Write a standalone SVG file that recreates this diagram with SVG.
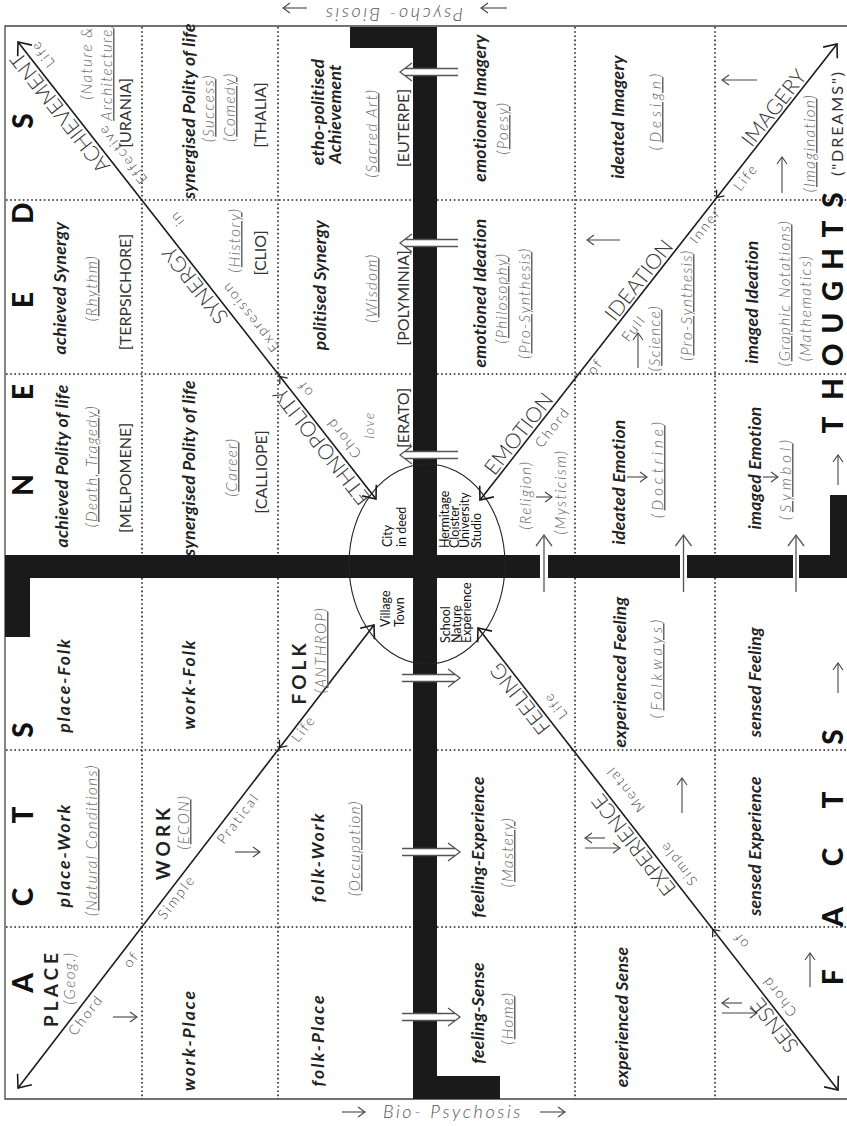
<svg xmlns="http://www.w3.org/2000/svg" width="847" height="1126" viewBox="0 0 847 1126">
<defs>
<style>
text{font-family:Lato,"Open Sans","DejaVu Sans",sans-serif;text-anchor:middle;fill:#222}
.lab{font-style:italic;font-weight:700;font-size:17.5px;letter-spacing:0.3px}
.sp{letter-spacing:2px}
.par{font-style:italic;font-weight:300;font-size:15px;fill:#666;letter-spacing:1.5px}
.u{text-decoration:underline}
.mus{font-size:16px;fill:#333}
.big{font-weight:900;font-size:28px;fill:#111}
.cap{font-weight:700;font-size:19px;letter-spacing:4px}
.dg{font-weight:300;font-size:21px;fill:#333}
.ds{font-weight:300;font-size:14px;fill:#444;letter-spacing:2px}
.cir{font-size:12.5px;text-anchor:start;fill:#111}
.bp{font-style:italic;font-weight:300;font-size:18px;fill:#555;letter-spacing:2.6px}
.dot{stroke:#222;stroke-width:1.6;stroke-dasharray:1.6 2.6;fill:none}
.bar{fill:#1a1a1a}
.gap{fill:#fff}
.ln{stroke:#1a1a1a;stroke-width:1.6;fill:none}
.ar{stroke:#444;stroke-width:1.1;fill:none}
.ha{stroke:#555;stroke-width:1.3;fill:none}
.tk{stroke:none;fill:none}
</style>
<marker id="ah" viewBox="-13 -11 15 22" refX="0" refY="0" markerWidth="15" markerHeight="22" markerUnits="userSpaceOnUse" orient="auto-start-reverse"><path d="M-11,-9 L0,0 L-11,9" fill="none" stroke="#1a1a1a" stroke-width="1.6"/></marker>
<marker id="sa" viewBox="-9 -7 11 14" refX="0" refY="0" markerWidth="11" markerHeight="14" markerUnits="userSpaceOnUse" orient="auto"><path d="M-7,-5 L0,0 L-7,5" fill="none" stroke="#444" stroke-width="1.1"/></marker>
<marker id="ck" viewBox="-9 -7 11 14" refX="0" refY="0" markerWidth="11" markerHeight="14" markerUnits="userSpaceOnUse" orient="auto"><path d="M-6,-5 L0,0 L-6,5" fill="none" stroke="#1a1a1a" stroke-width="1.2"/></marker>
<marker id="ha" viewBox="-13 -10 15 20" refX="0" refY="0" markerWidth="15" markerHeight="20" markerUnits="userSpaceOnUse" orient="auto"><path d="M-11,-8 L0,0 L-11,8" fill="none" stroke="#555" stroke-width="1.3"/></marker>
</defs>
<rect width="847" height="1126" fill="#fff"/>

<g id="frame">
<path d="M847,26 H5 V1099 H847" fill="none" stroke="#444" stroke-width="1.3"/>
</g>

<g id="grid">
<path class="dot" d="M142,27 V555 M278,27 V555 M575,27 V555 M715,27 V555 M142,578 V1099 M278,578 V1099 M575,578 V1099 M715,578 V1099"/>
<path class="dot" d="M6,200 H413 M6,374 H413 M437,200 H847 M437,374 H847 M6,750 H413 M6,927 H413 M437,750 H847 M437,927 H847"/>
</g>

<g id="bars">
<rect class="bar" x="413" y="27" width="24" height="1072"/>
<rect class="bar" x="350" y="27" width="87" height="21"/>
<rect class="bar" x="413" y="1076" width="87" height="23"/>
<rect class="bar" x="5" y="555" width="842" height="23"/>
<rect class="bar" x="5" y="555" width="25" height="82"/>
<rect class="bar" x="830" y="495" width="17" height="83"/>
<rect class="gap" x="413" y="68.5" width="24" height="7"/>
<rect class="gap" x="413" y="239.5" width="24" height="7"/>
<rect class="gap" x="413" y="451.5" width="24" height="7"/>
<rect class="gap" x="413" y="674.5" width="24" height="7"/>
<rect class="gap" x="413" y="848.5" width="24" height="7"/>
<rect class="gap" x="413" y="1013.5" width="24" height="7"/>
<rect class="gap" x="540" y="555" width="8" height="23"/>
<rect class="gap" x="680" y="555" width="7" height="23"/>
<rect class="gap" x="793" y="555" width="6" height="23"/>
</g>

<g id="center">
<ellipse cx="427" cy="564" rx="78" ry="100" fill="none" stroke="#222" stroke-width="1.1"/>
<text class="cir" transform="translate(392,547) rotate(-90)">City</text>
<text class="cir" transform="translate(406,547) rotate(-90)">in deed</text>
<text class="cir" transform="translate(449,548) rotate(-90)">Hermitage</text>
<text class="cir" transform="translate(459,548) rotate(-90)">Cloister</text>
<text class="cir" transform="translate(469,548) rotate(-90)">University</text>
<text class="cir" transform="translate(481,548) rotate(-90)">Studio</text>
<text class="cir" transform="translate(390,627) rotate(-90)">Village</text>
<text class="cir" transform="translate(404,627) rotate(-90)">Town</text>
<text class="cir" transform="translate(450,643) rotate(-90)">School</text>
<text class="cir" transform="translate(461,643) rotate(-90)">Nature</text>
<text class="cir" transform="translate(471,643) rotate(-90)">Expérience</text>
</g>

<g id="connectors">
<path class="ln" d="M376,499 L18,42" marker-start="url(#ah)" marker-end="url(#ah)"/>
<path class="ln" d="M374,625 L18,1088" marker-start="url(#ah)" marker-end="url(#ah)"/>
<path class="ln" d="M480,500 L837,44" marker-start="url(#ah)" marker-end="url(#ah)"/>
<path class="ln" d="M478,628 L838,1090" marker-start="url(#ah)" marker-end="url(#ah)"/>
<path class="tk" marker-end="url(#ck)" d="M135,191.3 L140,197.6 M148.6,208.7 L143.7,202.4 M271.3,365.3 L276.3,371.6 M284.9,382.7 L280,376.4"/>
<path class="tk" marker-end="url(#ck)" d="M135.1,935.2 L140,928.9 M148.5,918.8 L143.6,925.1 M271.2,758.7 L276.1,752.4 M284.6,741.3 L279.7,747.6"/>
<path class="tk" marker-end="url(#ck)" d="M571.8,382.7 L576.7,376.4 M585.4,365.3 L580.5,371.6 M708.1,208.7 L713,202.4 M721.7,191.3 L716.8,197.6"/>
<path class="tk" marker-end="url(#ck)" d="M566.3,741.3 L571.3,747.6 M579.9,758.7 L574.9,752.4 M704.2,918.3 L709.2,924.6 M717.8,935.7 L712.8,929.4"/>
<path class="ha" d="M458,68.5 H405 M458,75.5 H405 M412,63 L400,72 L412,81"/>
<path class="ha" d="M458,239.5 H405 M458,246.5 H405 M412,234 L400,243 L412,252"/>
<path class="ha" d="M458,451.5 H405 M458,458.5 H405 M412,446 L400,455 L412,464"/>
<path class="ha" d="M402,674.5 H455 M402,681.5 H455 M448,669 L460,678 L448,687"/>
<path class="ha" d="M402,848.5 H455 M402,855.5 H455 M448,843 L460,852 L448,861"/>
<path class="ha" d="M402,1013.5 H455 M402,1020.5 H455 M448,1008 L460,1017 L448,1026"/>
<path class="ha" d="M544,592 V535" marker-end="url(#ha)"/>
<path class="ha" d="M683.5,592 V535" marker-end="url(#ha)"/>
<path class="ha" d="M796,592 V535" marker-end="url(#ha)"/>
<path class="ar" d="M113,1017 H137" marker-end="url(#sa)"/>
<path class="ar" d="M235,852 H260" marker-end="url(#sa)"/>
<path class="ar" d="M536,497 H552" marker-end="url(#sa)"/>
<path class="ar" d="M627,477 H647" marker-end="url(#sa)"/>
<path class="ar" d="M763,477 H778" marker-end="url(#sa)"/>
<path class="ar" d="M620,240 H587" marker-end="url(#sa)"/>
<path class="ar" d="M638,368 V333" marker-end="url(#sa)"/>
<path class="ar" d="M757,80 H722" marker-end="url(#sa)"/>
<path class="ar" d="M782,193 V157" marker-end="url(#sa)"/>
<path class="ar" d="M605,838 H585" marker-end="url(#sa)"/>
<path class="ar" d="M585,848 H620" marker-end="url(#sa)"/>
<path class="ar" d="M682,813 V778" marker-end="url(#sa)"/>
<path class="ar" d="M742,1003 H722" marker-end="url(#sa)"/>
<path class="ar" d="M722,1013 H757" marker-end="url(#sa)"/>
<path class="ar" d="M810,987 V953" marker-end="url(#sa)"/>
<path class="ar" d="M838,693 V663" marker-end="url(#sa)"/>
<path class="ar" d="M838,485 V455" marker-end="url(#sa)"/>
<path class="ar" d="M307,8 H283" marker-end="url(#sa)"/>
<path class="ar" d="M507,8 H481" marker-end="url(#sa)"/>
<path class="ar" d="M342,1112 H365" marker-end="url(#sa)"/>
<path class="ar" d="M540,1112 H565" marker-end="url(#sa)"/>
</g>

<g id="axis-labels">
<text class="bp" transform="translate(393,15) rotate(180)" dominant-baseline="central">Psycho- Biosis</text>
<text class="bp" x="453" y="1118">Bio- Psychosis</text>
<text class="big" transform="rotate(-90)" x="-485 -392 -300 -213 -121" y="33">NEEDS</text>
<text class="big" transform="rotate(-90)" x="-983 -897 -815 -730" y="33">ACTS</text>
<text class="big" transform="rotate(-90)" x="-977 -917 -857 -800 -737" y="843">FACTS</text>
<text class="big" transform="rotate(-90)" x="-425 -389 -355 -323 -291 -259 -229 -200" y="843">THOUGHTS</text>
</g>

<g id="diag-tl" transform="translate(376,499) rotate(-128.1)">
<text class="dg" x="75" y="-3">ETHNOPOLITY</text>
<text class="dg" x="280" y="-3">SYNERGY</text>
<text class="dg" x="499" y="-3">ACHIEVEMENT</text>
<text class="ds" x="68" y="17">Chord</text>
<text class="ds" x="131" y="17">of</text>
<text class="ds" x="221" y="18">Expression</text>
<text class="ds" x="344" y="21">in</text>
<text class="ds" x="428" y="18">Effective</text>
<text class="ds" x="556" y="17">Life</text>
</g>
<g id="diag-bl" transform="translate(18,1088) rotate(-52.45)">
<text class="ds" x="99" y="14">Chord</text>
<text class="ds" x="171" y="16">of</text>
<text class="ds" x="248" y="14">Simple</text>
<text class="ds" x="348" y="15">Pratical</text>
<text class="ds" x="459" y="12">Life</text>
</g>
<g id="diag-tr" transform="translate(480,500) rotate(-51.94)">
<text class="dg" x="76" y="-3">EMOTION</text>
<text class="ds" x="102" y="17">Chord</text>
<text class="ds" x="176" y="13">of</text>
<text class="ds" x="230" y="20">Full</text>
<text class="dg" x="271" y="-3">IDEATION</text>
<text class="ds" x="355" y="13">Inner</text>
<text class="ds" x="418" y="15">Life</text>
<text class="dg" x="490" y="-3">IMAGERY</text>
</g>
<g id="diag-br" transform="translate(838,1090) rotate(-127.93)">
<text class="dg" x="90" y="-3">SENSE</text>
<text class="ds" x="110" y="16">Chord</text>
<text class="ds" x="178" y="20">of</text>
<text class="ds" x="277" y="18">Simple</text>
<text class="dg" x="319" y="-3">EXPERIENCE</text>
<text class="ds" x="368" y="22">Mental</text>
<text class="dg" x="504" y="-3">FEELING</text>
<text class="ds" x="477" y="18">Life</text>
</g>

<g id="cell-a1">
<text class="par" transform="translate(92,63) rotate(-90)">(Nature &amp;</text>
<text class="par" transform="translate(112,72) rotate(-90)"><tspan class="u">Architecture</tspan>)</text>
<text class="mus" transform="translate(131,113) rotate(-90)">[URANIA]</text>
</g>
<g id="cell-a2">
<text class="lab" transform="translate(66,288) rotate(-90)">achieved Synergy</text>
<text class="par" transform="translate(97,288) rotate(-90)">(<tspan class="u">Rhythm</tspan>)</text>
<text class="mus" transform="translate(131,292) rotate(-90)">[TERPSICHORE]</text>
</g>
<g id="cell-a3">
<text class="lab" transform="translate(68,466) rotate(-90)">achieved Polity of life</text>
<text class="par" transform="translate(97,466) rotate(-90)">(<tspan class="u">Death, Tragedy</tspan>)</text>
<text class="mus" transform="translate(131,478) rotate(-90)">[MELPOMENE]</text>
</g>
<g id="cell-a4">
<text class="lab sp" transform="translate(70,685) rotate(-90)">place-Folk</text>
</g>
<g id="cell-a5">
<text class="lab sp" transform="translate(70,855) rotate(-90)">place-Work</text>
<text class="par" transform="translate(97,840) rotate(-90)">(<tspan class="u">Natural Conditions</tspan>)</text>
</g>
<g id="cell-a6">
<text class="cap" transform="translate(58,988) rotate(-90)">PLACE</text>
<text class="par" transform="translate(75,978) rotate(-90)">(Geog.)</text>
</g>

<g id="cell-b1">
<text class="lab" transform="translate(195,111) rotate(-90)">synergised Polity of life</text>
<text class="par" transform="translate(214,108) rotate(-90)">(<tspan class="u">Success</tspan>)</text>
<text class="par" transform="translate(235,107) rotate(-90)">(<tspan class="u">Comedy</tspan>)</text>
<text class="mus" transform="translate(266,115) rotate(-90)">[THALIA]</text>
</g>
<g id="cell-b2">
<text class="par" transform="translate(240,240) rotate(-90)">(<tspan class="u">History</tspan>)</text>
<text class="mus" transform="translate(266,253) rotate(-90)">[CLIO]</text>
</g>
<g id="cell-b3">
<text class="lab" transform="translate(195,468) rotate(-90)">synergised Polity of life</text>
<text class="par" transform="translate(237,467) rotate(-90)">(<tspan class="u">Career</tspan>)</text>
<text class="mus" transform="translate(267,472) rotate(-90)">[CALLIOPE]</text>
</g>
<g id="cell-b4">
<text class="lab sp" transform="translate(195,684) rotate(-90)">work-Folk</text>
</g>
<g id="cell-b5">
<text class="cap" transform="translate(170,842) rotate(-90)">WORK</text>
<text class="par" transform="translate(189,822) rotate(-90)">(<tspan class="u">ECON</tspan>)</text>
</g>
<g id="cell-b6">
<text class="lab sp" transform="translate(195,1040) rotate(-90)">work-Place</text>
</g>

<g id="cell-c1">
<text class="lab" transform="translate(324,112) rotate(-90)">etho-politised</text>
<text class="lab" transform="translate(341,114) rotate(-90)">Achievement</text>
<text class="par" transform="translate(377,133) rotate(-90)">(<tspan class="u">Sacred Art</tspan>)</text>
<text class="mus" transform="translate(409,128) rotate(-90)">[EUTERPE]</text>
</g>
<g id="cell-c2">
<text class="lab" transform="translate(326,285) rotate(-90)">politised Synergy</text>
<text class="par" transform="translate(377,288) rotate(-90)">(<tspan class="u">Wisdom</tspan>)</text>
<text class="mus" transform="translate(409,298) rotate(-90)">[POLYMINIA]</text>
</g>
<g id="cell-c3">
<text class="par" transform="translate(374,425) rotate(-90)" style="font-size:13px">love</text>
<text class="mus" transform="translate(409,418) rotate(-90)">[ERATO]</text>
</g>
<g id="cell-c4">
<text class="cap" transform="translate(306,672) rotate(-90)">FOLK</text>
<text class="par" transform="translate(326,650) rotate(-90)">(<tspan class="u">ANTHROP</tspan>)</text>
</g>
<g id="cell-c5">
<text class="lab sp" transform="translate(324,857) rotate(-90)">folk-Work</text>
<text class="par" transform="translate(360,848) rotate(-90)">(<tspan class="u">Occupation</tspan>)</text>
</g>
<g id="cell-c6">
<text class="lab sp" transform="translate(324,1040) rotate(-90)">folk-Place</text>
</g>

<g id="cell-d1">
<text class="lab" transform="translate(486,108) rotate(-90)">emotioned Imagery</text>
<text class="par" transform="translate(508,128) rotate(-90)">(<tspan class="u">Poesy</tspan>)</text>
</g>
<g id="cell-d2">
<text class="lab" transform="translate(486,293) rotate(-90)">emotioned Ideation</text>
<text class="par" transform="translate(507,298) rotate(-90)">(<tspan class="u">Philosophy</tspan>)</text>
<text class="par" transform="translate(530,303) rotate(-90)">(<tspan class="u">Pro-Synthesis</tspan>)</text>
</g>
<g id="cell-d3">
<text class="par" transform="translate(531,495) rotate(-90)">(Religion)</text>
<text class="par" transform="translate(566,492) rotate(-90)">(Mysticism)</text>
</g>
<g id="cell-d5">
<text class="lab" transform="translate(484,847) rotate(-90)">feeling-Experience</text>
<text class="par" transform="translate(513,852) rotate(-90)">(<tspan class="u">Mastery</tspan>)</text>
</g>
<g id="cell-d6">
<text class="lab" transform="translate(484,1013) rotate(-90)">feeling-Sense</text>
<text class="par" transform="translate(513,1018) rotate(-90)">(<tspan class="u">Home</tspan>)</text>
</g>

<g id="cell-e1">
<text class="lab" transform="translate(624,117) rotate(-90)">ideated Imagery</text>
<text class="par" transform="translate(661,110) rotate(-90)" style="letter-spacing:4px">(<tspan class="u">Design</tspan>)</text>
</g>
<g id="cell-e2">
<text class="par" transform="translate(660,338) rotate(-90)">(<tspan class="u">Science</tspan>)</text>
<text class="par" transform="translate(692,305) rotate(-90)">(<tspan class="u">Pro-Synthesis</tspan>)</text>
</g>
<g id="cell-e3">
<text class="lab" transform="translate(625,482) rotate(-90)">ideated Emotion</text>
<text class="par" transform="translate(663,468) rotate(-90)" style="letter-spacing:4px">(<tspan class="u">Doctrine</tspan>)</text>
</g>
<g id="cell-e4">
<text class="lab" transform="translate(626,672) rotate(-90)">experienced Feeling</text>
<text class="par" transform="translate(662,667) rotate(-90)" style="letter-spacing:4px">(<tspan class="u">Folkways</tspan>)</text>
</g>
<g id="cell-e6">
<text class="lab" transform="translate(628,1017) rotate(-90)">experienced Sense</text>
</g>

<g id="cell-f1">
<text class="par" transform="translate(815,143) rotate(-90)">(<tspan class="u">Imagination</tspan>)</text>
<text class="mus" transform="translate(843,123) rotate(-90)" style="letter-spacing:2px">("DREAMS")</text>
</g>
<g id="cell-f2">
<text class="lab" transform="translate(758,302) rotate(-90)">imaged Ideation</text>
<text class="par" transform="translate(790,293) rotate(-90)">(<tspan class="u">Graphic Notations</tspan>)</text>
<text class="par" transform="translate(811,308) rotate(-90)">(Mathematics)</text>
</g>
<g id="cell-f3">
<text class="lab" transform="translate(761,468) rotate(-90)">imaged Emotion</text>
<text class="par" transform="translate(791,478) rotate(-90)" style="letter-spacing:4px">(<tspan class="u">Symbol</tspan>)</text>
</g>
<g id="cell-f4">
<text class="lab" transform="translate(761,682) rotate(-90)">sensed Feeling</text>
</g>
<g id="cell-f5">
<text class="lab" transform="translate(761,846) rotate(-90)">sensed Experience</text>
</g>
</svg>
